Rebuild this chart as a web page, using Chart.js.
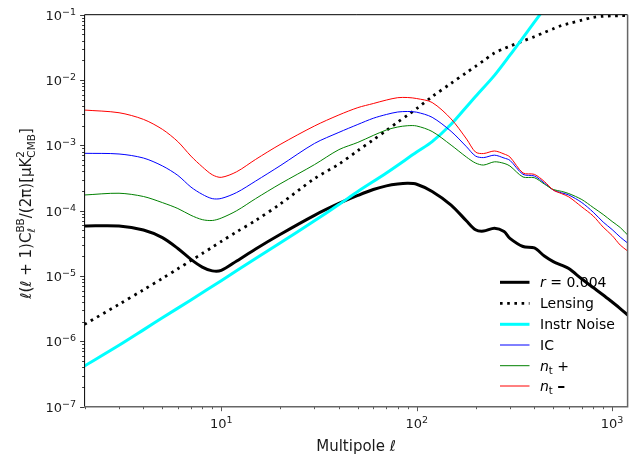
<!DOCTYPE html>
<html>
<head>
<meta charset="utf-8">
<script src="https://cdn.jsdelivr.net/npm/chart.js@4.4.1/dist/chart.umd.min.js"></script>
<style>
  html, body { margin: 0; padding: 0; background: #fff; }
  #wrap { width: 635px; height: 454px; position: relative; }
</style>
</head>
<body>
<div id="wrap"><canvas id="cmb"></canvas></div>
<script>
// multipoles shared by the model spectra
const ell = [2, 3, 4, 5, 6, 7, 8, 9, 10, 12, 15, 20, 30, 40, 50, 60, 70, 80, 90, 100,
  120, 150, 180, 200, 220, 250, 280, 300, 350, 400, 450, 500, 550, 600, 700, 800, 900, 1000, 1100, 1200];

// l(l+1)C_l^BB/2pi in uK^2
const rTensor = [5.83e-5, 5.83e-5, 5.06e-5, 3.87e-5, 2.64e-5, 1.8e-5, 1.37e-5, 1.2e-5, 1.22e-5, 1.7e-5,
  2.6e-5, 4.33e-5, 8.5e-5, 1.29e-4, 1.71e-4, 2.11e-4, 2.4e-4, 2.56e-4, 2.62e-4, 2.54e-4,
  1.97e-4, 1.22e-4, 6.95e-5, 5.1e-5, 4.87e-5, 5.4e-5, 4.8e-5, 3.77e-5, 2.83e-5, 2.69e-5,
  2.02e-5, 1.66e-5, 1.47e-5, 1.3e-5, 9.0e-6, 6.67e-6, 5.13e-6, 4.0e-6, 3.18e-6, 2.53e-6];

const lensing = [1.82e-6, 3.69e-6, 6.15e-6, 9.2e-6, 1.29e-5, 1.72e-5, 2.21e-5, 2.76e-5, 3.38e-5, 4.75e-5,
  7.08e-5, 1.26e-4, 3.1e-4, 5.16e-4, 8.3e-4, 1.22e-3, 1.69e-3, 2.27e-3, 2.9e-3, 3.66e-3,
  5.57e-3, 8.9e-3, 1.3e-2, 1.62e-2, 1.98e-2, 2.59e-2, 3.03e-2, 3.3e-2, 3.96e-2, 4.6e-2,
  5.36e-2, 6.08e-2, 6.84e-2, 7.33e-2, 8.24e-2, 9.1e-2, 9.46e-2, 9.6e-2, 9.65e-2, 9.65e-2];

const ic = [7.56e-4, 7.38e-4, 6.4e-4, 4.85e-4, 3.47e-4, 2.3e-4, 1.78e-4, 1.53e-4, 1.54e-4, 1.9e-4,
  2.84e-4, 4.87e-4, 1.07e-3, 1.58e-3, 2.09e-3, 2.6e-3, 2.97e-3, 3.24e-3, 3.3e-3, 3.22e-3,
  2.69e-3, 1.64e-3, 9.5e-4, 6.87e-4, 6.5e-4, 7.08e-4, 6.4e-4, 5.9e-4, 3.6e-4, 3.4e-4,
  2.65e-4, 2.07e-4, 1.88e-4, 1.74e-4, 1.33e-4, 9.5e-5, 6.7e-5, 5.15e-5, 3.95e-5, 3.2e-5];

const ntPlus = [1.74e-4, 1.85e-4, 1.65e-4, 1.33e-4, 1.08e-4, 8.5e-5, 7.3e-5, 7.08e-5, 7.7e-5, 1.0e-4,
  1.53e-4, 2.57e-4, 5.07e-4, 8.6e-4, 1.11e-3, 1.42e-3, 1.72e-3, 1.91e-3, 2.0e-3, 1.98e-3,
  1.63e-3, 1.01e-3, 6.6e-4, 5.37e-4, 5.0e-4, 5.6e-4, 5.3e-4, 4.83e-4, 3.28e-4, 3.2e-4,
  2.56e-4, 2.11e-4, 1.98e-4, 1.83e-4, 1.48e-4, 1.12e-4, 8.75e-5, 6.84e-5, 5.53e-5, 4.25e-5];

const ntMinus = [3.47e-3, 3.16e-3, 2.5e-3, 1.76e-3, 1.14e-3, 6.85e-4, 4.7e-4, 3.55e-4, 3.24e-4, 3.95e-4,
  6.1e-4, 1.03e-3, 1.98e-3, 2.92e-3, 3.78e-3, 4.37e-3, 4.94e-3, 5.37e-3, 5.4e-3, 5.21e-3,
  4.53e-3, 2.54e-3, 1.25e-3, 7.9e-4, 7.5e-4, 8.2e-4, 7.38e-4, 6.64e-4, 3.78e-4, 3.6e-4,
  2.8e-4, 2.07e-4, 1.83e-4, 1.63e-4, 1.14e-4, 8.3e-5, 5.6e-5, 4.17e-5, 2.98e-5, 2.42e-5];

// noise curve leaves the frame near l ~ 430
const ellNoise = [2, 3, 4, 5, 7, 10, 15, 20, 30, 40, 50, 70, 100, 120, 150, 180, 200, 250, 300, 350, 400, 450];
const instrNoise = [4.2e-7, 8.7e-7, 1.5e-6, 2.3e-6, 4.3e-6, 8.5e-6, 1.85e-5, 3.2e-5, 7.0e-5, 1.24e-4, 1.97e-4,
  3.78e-4, 7.9e-4, 1.14e-3, 2.1e-3, 3.9e-3, 5.6e-3, 1.18e-2, 2.4e-2, 4.47e-2, 7.7e-2, 0.124];

const xDecades = [1, 2, 3];
const yDecades = [-7, -6, -5, -4, -3, -2, -1];
const xRange = [2, 1200];
const yRange = [1e-7, 1e-1];

const FONT = '"DejaVu Sans"';

const series = [
  { key: 'r', xs: ell, ys: rTensor, color: '#000000', width: 3, dash: [] },
  { key: 'lens', xs: ell, ys: lensing, color: '#000000', width: 2.8, dash: [2.6, 4.6] },
  { key: 'noise', xs: ellNoise, ys: instrNoise, color: '#00ffff', width: 3, dash: [] },
  { key: 'ic', xs: ell, ys: ic, color: '#0000ff', width: 1, dash: [] },
  { key: 'ntp', xs: ell, ys: ntPlus, color: '#008000', width: 1, dash: [] },
  { key: 'ntm', xs: ell, ys: ntMinus, color: '#ff0000', width: 1, dash: [] }
];

// legend labels as runs of text (italic / subscript pieces)
const legendRuns = {
  r: [{ t: 'r', font: 'italic 14px ' + FONT }, { t: ' = 0.004', font: '14px ' + FONT }],
  lens: [{ t: 'Lensing', font: '14px ' + FONT }],
  noise: [{ t: 'Instr Noise', font: '14px ' + FONT }],
  ic: [{ t: 'IC', font: '14px ' + FONT }],
  ntp: [{ t: 'n', font: 'italic 14px ' + FONT }, { t: 't', font: '10px ' + FONT, dy: 3 }, { t: ' +', font: '14px ' + FONT }],
  ntm: [{ t: 'n', font: 'italic 14px ' + FONT }, { t: 't', font: '10px ' + FONT, dy: 3 }, { t: ' ', font: '14px ' + FONT },
        { t: '\u2013', font: 'bold 16px ' + FONT }]
};

function layoutRuns(ctx, runs) {
  let x = 0, lastStart = 0, lastW = 0;
  const placed = [];
  runs.forEach(r => {
    ctx.font = r.font;
    const w = ctx.measureText(r.t).width;
    if (r.stack) {
      placed.push(Object.assign({}, r, { x: lastStart }));
      lastW = Math.max(lastW, w);
      x = lastStart + lastW;
    } else {
      placed.push(Object.assign({}, r, { x: x }));
      lastStart = x; lastW = w; x += w;
    }
  });
  return { placed, width: x };
}

function drawRuns(ctx, runs, x, y, align) {
  const lay = layoutRuns(ctx, runs);
  const x0 = align === 'center' ? x - lay.width / 2 : (align === 'right' ? x - lay.width : x);
  ctx.textAlign = 'left';
  ctx.textBaseline = 'alphabetic';
  lay.placed.forEach(p => {
    ctx.font = p.font;
    ctx.fillText(p.t, x0 + p.x, y + (p.dy || 0));
  });
}

function powRuns(exp) {
  const sup = exp < 0 ? '\u2212' + (-exp) : String(exp);
  return [{ t: '10', font: '13px ' + FONT }, { t: sup, font: '9.5px ' + FONT, dy: -5 }];
}

const decor = {
  id: 'decor',
  afterDraw(chart) {
    const ctx = chart.ctx;
    const a = chart.chartArea;
    const xs = chart.scales.x, ys = chart.scales.y;
    ctx.save();
    ctx.fillStyle = '#000';

    // tick marks
    ctx.lineWidth = 0.9;
    ctx.strokeStyle = '#444';
    for (let d = 0; d <= 3; d++) {
      for (let m = 1; m <= 9; m++) {
        const v = m * Math.pow(10, d);
        if (v < xRange[0] || v > xRange[1]) continue;
        const px = Math.round(xs.getPixelForValue(v)) + 0.5;
        const len = m === 1 ? 4.5 : 2.5;
        ctx.beginPath(); ctx.moveTo(px, a.bottom); ctx.lineTo(px, a.bottom + len); ctx.stroke();
      }
    }
    ctx.strokeStyle = '#222';
    for (let d = -7; d <= -1; d++) {
      for (let m = 1; m <= 9; m++) {
        const v = m * Math.pow(10, d);
        if (v < yRange[0] * 0.999 || v > yRange[1] * 1.001) continue;
        const py = Math.round(ys.getPixelForValue(v)) + 0.5;
        const len = m === 1 ? 4.5 : 2.5;
        ctx.beginPath(); ctx.moveTo(a.left, py); ctx.lineTo(a.left - len, py); ctx.stroke();
      }
    }

    // frame
    ctx.lineWidth = 1;
    ctx.strokeStyle = '#000';
    ctx.beginPath();
    ctx.moveTo(a.left, a.bottom); ctx.lineTo(a.left, a.top); ctx.lineTo(a.right, a.top);
    ctx.stroke();
    ctx.strokeStyle = '#666';
    ctx.lineWidth = 1.5;
    ctx.beginPath();
    ctx.moveTo(a.right, a.top); ctx.lineTo(a.right, a.bottom); ctx.lineTo(a.left, a.bottom);
    ctx.stroke();

    // tick labels
    ctx.fillStyle = '#1a1a1a';
    xDecades.forEach(d => {
      drawRuns(ctx, powRuns(d), xs.getPixelForValue(Math.pow(10, d)), 428, 'center');
    });
    yDecades.forEach(d => {
      drawRuns(ctx, powRuns(d), 76, ys.getPixelForValue(Math.pow(10, d)) + 5, 'right');
    });

    // axis titles
    drawRuns(ctx, [{ t: 'Multipole ', font: '15px ' + FONT }, { t: '\u2113', font: 'italic 15px ' + FONT }],
      (a.left + a.right) / 2, 451, 'center');

    ctx.save();
    ctx.translate(30.5, 213.5);
    ctx.rotate(-Math.PI / 2);
    const M = '15px ' + FONT, MI = 'italic 15px ' + FONT, S = '10.5px ' + FONT, SI = 'italic 10.5px ' + FONT;
    drawRuns(ctx, [
      { t: '\u2113', font: MI }, { t: '(', font: M }, { t: '\u2113', font: MI }, { t: ' + 1)C', font: M },
      { t: 'BB', font: S, dy: -6.5 }, { t: '\u2113', font: SI, dy: 4, stack: true },
      { t: '/(2\u03c0)[\u03bcK', font: M },
      { t: '2', font: S, dy: -6.5 }, { t: 'CMB', font: S, dy: 4, stack: true },
      { t: ']', font: M }
    ], 0, 0, 'center');
    ctx.restore();

    // legend
    const rows = [282.3, 303.3, 324.3, 345, 365.7, 386];
    series.forEach((s, i) => {
      const y = rows[i];
      ctx.save();
      ctx.strokeStyle = s.color;
      ctx.lineWidth = s.width;
      ctx.setLineDash(s.dash);
      ctx.beginPath(); ctx.moveTo(500, y); ctx.lineTo(529.5, y); ctx.stroke();
      ctx.restore();
      ctx.fillStyle = '#000';
      drawRuns(ctx, legendRuns[s.key], 540, y + 5, 'left');
    });
    ctx.restore();
  }
};

const datasets = series.map((s, i) => ({
  label: s.key,
  data: s.xs.map((x, k) => ({ x: x, y: s.ys[k] })),
  borderColor: s.color,
  backgroundColor: s.color,
  borderWidth: s.width,
  borderDash: s.dash,
  borderCapStyle: 'butt',
  pointRadius: 0,
  tension: 0.3,
  fill: false,
  clip: 0,
  order: series.length - i
}));

new Chart(document.getElementById('cmb'), {
  type: 'line',
  data: { datasets: datasets },
  options: {
    responsive: true,
    maintainAspectRatio: false,
    animation: false,
    events: [],
    layout: { padding: { top: 14.7, right: 7.4, left: 0, bottom: 0 } },
    plugins: { legend: { display: false }, tooltip: { enabled: false } },
    scales: {
      x: {
        type: 'logarithmic', min: xRange[0], max: xRange[1],
        ticks: { display: false }, grid: { display: false }, border: { display: false },
        afterFit: s => { s.height = 47.3; }
      },
      y: {
        type: 'logarithmic', min: yRange[0], max: yRange[1],
        ticks: { display: false }, grid: { display: false }, border: { display: false },
        afterFit: s => { s.width = 84.6; }
      }
    }
  },
  plugins: [decor]
});
</script>
</body>
</html>
